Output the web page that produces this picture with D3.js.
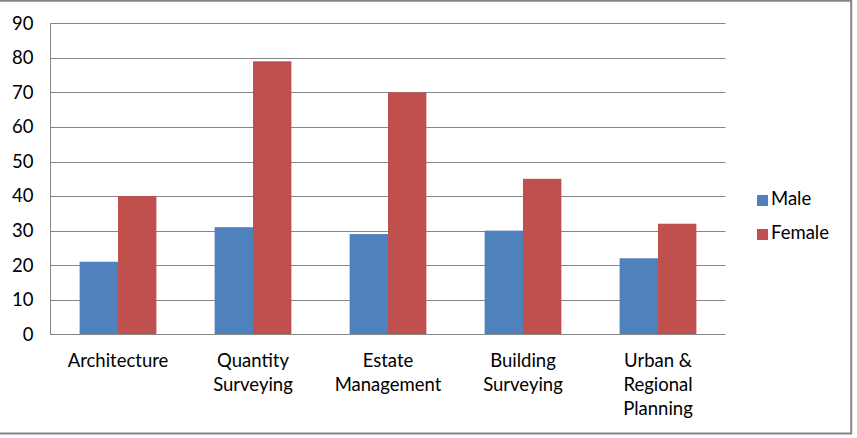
<!DOCTYPE html>
<html><head><meta charset="utf-8">
<script src="https://cdn.jsdelivr.net/npm/d3@7"></script>
<style>body{margin:0;background:#fff;}svg{display:block;font-family:Lato,"Open Sans",sans-serif;}</style>
</head><body>
<svg id="c" width="857" height="438"></svg>
<script>
const categories = [["Architecture"],["Quantity","Surveying"],["Estate","Management"],["Building","Surveying"],["Urban &","Regional","Planning"]];
const categoryNames = ["Architecture","Quantity Surveying","Estate Management","Building Surveying","Urban & Regional Planning"];
const seriesNames = ["Male","Female"];
const maleValues = [21,31,29,30,22];
const femaleValues = [40,79,70,45,32];
const yTicks = [0,10,20,30,40,50,60,70,80,90];
const colors = ["#4F81BD","#C0504D"];

(function(){
const svg = d3.select("#c");
const FS=18.5;
svg.append("path").attr("d","M0,0.8H851.2V433.5H0").attr("fill","none")
  .attr("stroke","#868686").attr("stroke-width",2);

const pl=50.5,pr=725.5,pt=23.3,pb=334.3;
const x = d3.scaleBand().domain(categoryNames).range([pl,pr]).paddingInner(0.4315).paddingOuter(0.2158);
const xs = d3.scaleBand().domain(seriesNames).range([0,x.bandwidth()]);
const y = d3.scaleLinear().domain([0,90]).range([pb,pt]);

const g = svg.append("g");
g.selectAll("line.grid").data(yTicks.filter(d=>d>0)).join("line")
  .attr("x1",pl).attr("x2",pr).attr("y1",d=>Math.round(y(d))+0.5).attr("y2",d=>Math.round(y(d))+0.5)
  .attr("stroke","#868686").attr("stroke-width",1);

const data = categoryNames.map((c,i)=>({c, vals:[maleValues[i],femaleValues[i]]}));
const grp = g.selectAll("g.cat").data(data).join("g").attr("transform",d=>`translate(${x(d.c)},0)`);
grp.selectAll("rect").data(d=>d.vals.map((v,j)=>({v,s:seriesNames[j],j}))).join("rect")
  .attr("x",d=>xs(d.s)).attr("width",xs.bandwidth())
  .attr("y",d=>y(d.v)).attr("height",d=>y(0)-y(d.v)).attr("fill",d=>colors[d.j]);

g.append("line").attr("x1",pl).attr("x2",pl).attr("y1",pt).attr("y2",pb+0.5).attr("stroke","#868686");
g.append("line").attr("x1",pl).attr("x2",pr).attr("y1",Math.round(pb)+0.5).attr("y2",Math.round(pb)+0.5).attr("stroke","#868686");

const yAxis = d3.axisLeft(y).tickValues(yTicks).tickSize(0).tickPadding(17);
const ya = svg.append("g").attr("transform",`translate(${pl},0)`).call(yAxis);
ya.select(".domain").remove();
ya.selectAll("text").attr("font-size",FS).attr("font-family","Lato,sans-serif").attr("fill","#000");

const xl = svg.append("g");
categoryNames.forEach((c,i)=>{
  const t = xl.append("text").attr("text-anchor","middle").attr("font-size",FS).attr("fill","#000")
    .attr("x",x(c)+x.bandwidth()/2).attr("y",367);
  categories[i].forEach((line,k)=>t.append("tspan").attr("x",x(c)+x.bandwidth()/2).attr("dy",k?24:0).text(line));
});

const lg = svg.append("g");
seriesNames.forEach((s,i)=>{
  lg.append("rect").attr("x",757).attr("y",195+i*34).attr("width",11).attr("height",11).attr("fill",colors[i]);
  lg.append("text").attr("x",771).attr("y",205+i*34).attr("font-size",FS).attr("fill","#000").text(s);
});
})();
</script>
</body></html>
